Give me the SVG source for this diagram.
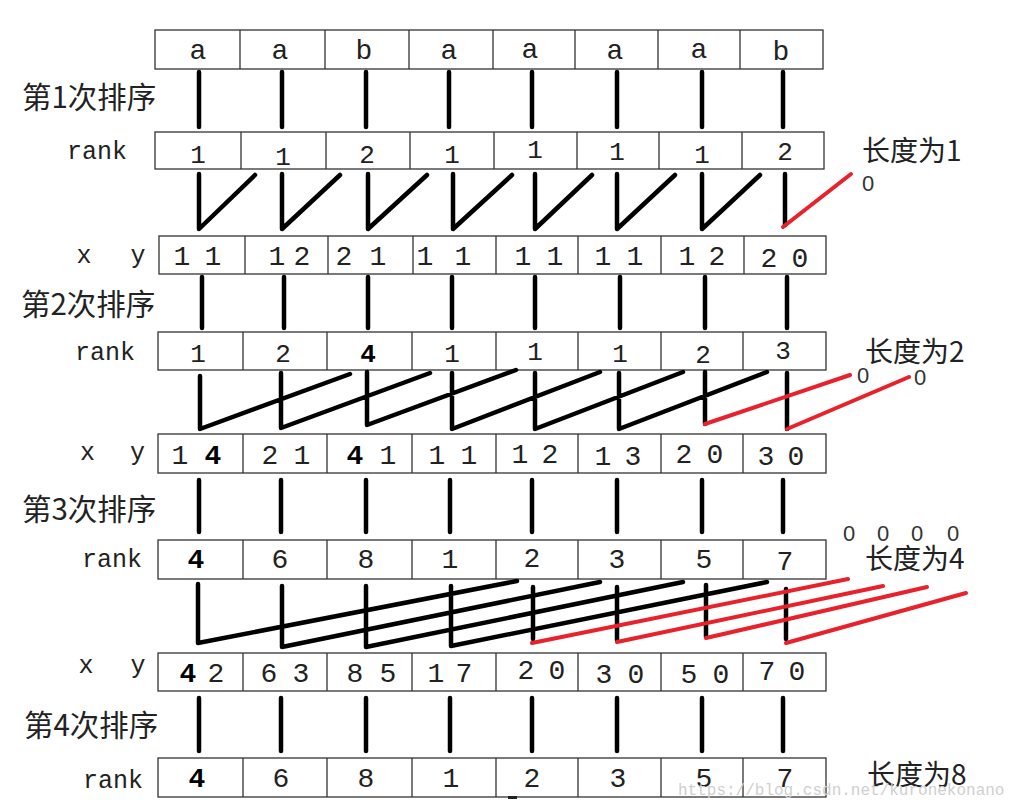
<svg xmlns="http://www.w3.org/2000/svg" width="1033" height="811" viewBox="0 0 1033 811">
<style>
.box{fill:#fff;stroke:#333;stroke-width:1.3}
.div{fill:none;stroke:#333;stroke-width:1.3}
.L{font-family:"Liberation Mono",monospace;font-size:28px;fill:#222;text-anchor:middle}
.d{font-family:"Liberation Mono",monospace;font-size:26px;fill:#222;text-anchor:middle}
.D{font-family:"Liberation Mono",monospace;font-size:28px;fill:#222}
.Dm{font-family:"Liberation Mono",monospace;font-size:28px;fill:#222;text-anchor:middle}
.b{font-weight:bold;fill:#000}
.cj{font-family:"Noto Sans CJK SC",sans-serif;font-size:28px;fill:#222}
.cjl{font-family:"Noto Sans CJK SC",sans-serif;font-size:29.5px;fill:#222}
.lab{font-family:"Liberation Mono",monospace;font-size:25px;fill:#222}
.z{font-family:"Liberation Sans",sans-serif;font-size:22px;fill:#333;text-anchor:middle}
.k{stroke:#000;stroke-width:4.5;fill:none;stroke-linecap:round;stroke-linejoin:round}
.r{stroke:#e8212b;stroke-width:4;fill:none;stroke-linecap:round}
.wm{font-family:"Liberation Mono",monospace;font-size:16px;fill:#cfcfcf}
</style>

<g id="labels">
<text class="cjl" x="22" y="108">第1次排序</text>
<text class="cjl" x="21" y="315">第2次排序</text>
<text class="cjl" x="22" y="520">第3次排序</text>
<text class="cjl" x="24" y="736">第4次排序</text>
<text class="lab" x="67" y="159">rank</text>
<text class="lab" x="75" y="360">rank</text>
<text class="lab" x="82" y="567">rank</text>
<text class="lab" x="83" y="788">rank</text>
<text class="cj" x="862" y="161">长度为1</text>
<text class="cj" x="865" y="362">长度为2</text>
<text class="cj" x="865" y="569">长度为4</text>
<text class="cj" x="867" y="785">长度为8</text>
<text class="z" x="868" y="191">0</text>
<text class="z" x="863" y="383">0</text>
<text class="z" x="920" y="385">0</text>
<text class="z" x="849" y="541">0</text>
<text class="z" x="883" y="541">0</text>
<text class="z" x="917" y="541">0</text>
<text class="z" x="953" y="541">0</text>
</g>

<g id="row1">
<rect class="box" x="155" y="30" width="668" height="39"/>
<path class="div" d="M240 30V69M325 30V69M409 30V69M493 30V69M575 30V69M658 30V69M740 30V69"/>
<g class="L">
<text x="198" y="59">a</text><text x="280" y="59">a</text><text x="364" y="59">b</text><text x="449" y="59">a</text>
<text x="530" y="58">a</text><text x="615" y="59">a</text><text x="699" y="58">a</text><text x="781" y="60">b</text>
</g>
</g>

<g id="row2">
<rect class="box" x="155" y="132" width="669" height="37"/>
<path class="div" d="M241 132V169M326 132V169M410 132V169M494 132V169M577 132V169M659 132V169M742 132V169"/>
<g class="d">
<text x="198" y="163">1</text><text x="283" y="165">1</text><text x="367" y="163">2</text><text x="452" y="163">1</text>
<text x="535" y="158">1</text><text x="617" y="160">1</text><text x="702" y="163">1</text><text x="785" y="160">2</text>
</g>
</g>

<g id="row3">
<text class="lab" x="76.5 100 130.5" y="263">x y</text>
<rect class="box" x="159" y="236" width="667" height="38"/>
<path class="div" d="M245 236V274M328 236V274M413 236V274M496 236V274M578 236V274M661 236V274M744 236V274"/>
<g class="D">
<text x="173.6 190 204.6" y="265">1 1</text>
<text x="268.6 285 293.6" y="265">1 2</text>
<text x="335.6 352 369.6" y="265">2 1</text>
<text x="416.6 432 454.6" y="265">1 1</text>
<text x="514.6 531 546.6" y="265">1 1</text>
<text x="594.6 611 626.6" y="265">1 1</text>
<text x="678.6 695 708.6" y="265">1 2</text>
<text x="760.6 777 791.6" y="267">2 0</text>
</g>
</g>

<g id="row4">
<rect class="box" x="158" y="332" width="668" height="38"/>
<path class="div" d="M243 332V370M327 332V370M412 332V370M496 332V370M578 332V370M661 332V370M743 332V370"/>
<g class="d">
<text x="198" y="362">1</text><text x="283" y="362">2</text><text class="b" x="368" y="362">4</text><text x="452" y="362">1</text>
<text x="535" y="360">1</text><text x="620" y="362">1</text><text x="703" y="363">2</text><text x="783" y="359">3</text>
</g>
</g>

<g id="row5">
<text class="lab" x="80 104 130" y="460">x y</text>
<rect class="box" x="158" y="434" width="668" height="39"/>
<path class="div" d="M243 434V473M327 434V473M412 434V473M496 434V473M578 434V473M661 434V473M743 434V473"/>
<g class="D">
<text y="464"><tspan x="171.6">1</tspan><tspan class="b" x="204.6">4</tspan></text>
<text x="261.6 277 293.6" y="464">2 1</text>
<text y="464"><tspan class="b" x="346.6">4</tspan><tspan x="379.6">1</tspan></text>
<text x="428.6 444 460.6" y="464">1 1</text>
<text x="511.6 527 541.6" y="463">1 2</text>
<text x="594.6 610 624.6" y="465">1 3</text>
<text x="675.6 691 706.6" y="463">2 0</text>
<text x="757.6 773 787.6" y="465">3 0</text>
</g>
</g>

<g id="row6">
<rect class="box" x="158" y="540" width="668" height="39"/>
<path class="div" d="M243 540V579M327 540V579M412 540V579M496 540V579M578 540V579M661 540V579M743 540V579"/>
<g class="Dm">
<text class="b" x="196" y="568">4</text><text x="280" y="568">6</text><text x="366" y="568">8</text><text x="450" y="568">1</text>
<text x="532" y="567">2</text><text x="617" y="568">3</text><text x="704" y="568">5</text><text x="785" y="570">7</text>
</g>
</g>

<g id="row7">
<text class="lab" x="78.5 102 130.5" y="673">x y</text>
<rect class="box" x="158" y="653" width="668" height="38"/>
<path class="div" d="M243 653V691M327 653V691M412 653V691M496 653V691M578 653V691M661 653V691M743 653V691"/>
<g class="D">
<text y="682"><tspan class="b" x="179.6">4</tspan><tspan x="207.6">2</tspan></text>
<text x="260.6 276 292.6" y="682">6 3</text>
<text x="346.6 363 379.6" y="682">8 5</text>
<text x="427.6 443 455.6" y="682">1 7</text>
<text x="517.6 533 548.6" y="679">2 0</text>
<text x="595.6 611 627.6" y="683">3 0</text>
<text x="680.6 696 712.6" y="683">5 0</text>
<text x="758.6 774 788.6" y="680">7 0</text>
</g>
</g>

<g id="row8">
<rect class="box" x="158" y="758" width="668" height="39"/>
<path class="div" d="M243 758V797M327 758V797M412 758V797M496 758V797M578 758V797M661 758V797M743 758V797"/>
<g class="Dm">
<text class="b" x="197" y="787">4</text><text x="281" y="787">6</text><text x="366" y="787">8</text><text x="451" y="787">1</text>
<text x="532" y="787">2</text><text x="618" y="787">3</text><text x="704" y="787">5</text><text x="785" y="787">7</text>
</g>
<rect x="508" y="796" width="9" height="3" fill="#222"/>
</g>

<g id="connectors">
<path class="k" d="M199 72V127M282 72V127M366 72V127M449 72V127M532 72V127M617 72V127M702 72V127M783 72V127"/>
<path class="k" d="M199 174V229L255 175M282 174V229L340 175M368 174V229L427 175M453 174V229L512 175M535 174V229L592 175M617 174V229L675 175M702 174V229L760 175M785 174V225"/>
<path class="r" d="M783 227L851 174"/>
<path class="k" d="M202 277V328M284 277V328M368 277V328M452 277V328M535 277V328M620 277V328M705 277V328M787 277V328"/>
<path class="k" d="M200 376V429L350 374M281 373V428L430 373M367 372V425L516 370M452 373V429L600 372M535 373V429L683 372M619 373V429L767 372M705 372V424M787 373V429"/>
<path class="r" d="M705 424L850 375M787 429L909 377"/>
<path class="k" d="M199 480V532M281 480V532M366 480V532M450 480V532M532 480V532M617 480V532M702 480V532M783 480V532"/>
<path class="k" d="M198 584V643L517 581M282 586V647L600 582M366 586V647L683 582M451 586V646L767 582M533 587V639M617 587V640M706 585V637M786 589V639"/>
<path class="r" d="M532 643L848 579M617 642L883 586M706 638L927 587M786 643L966 593"/>
<path class="k" d="M199 698V751M281 698V751M366 698V751M450 698V751M532 698V751M617 698V751M702 698V751M783 698V751"/>
</g>

<text class="wm" x="678" y="795">https://blog.csdn.net/kuronekonano</text>
</svg>
